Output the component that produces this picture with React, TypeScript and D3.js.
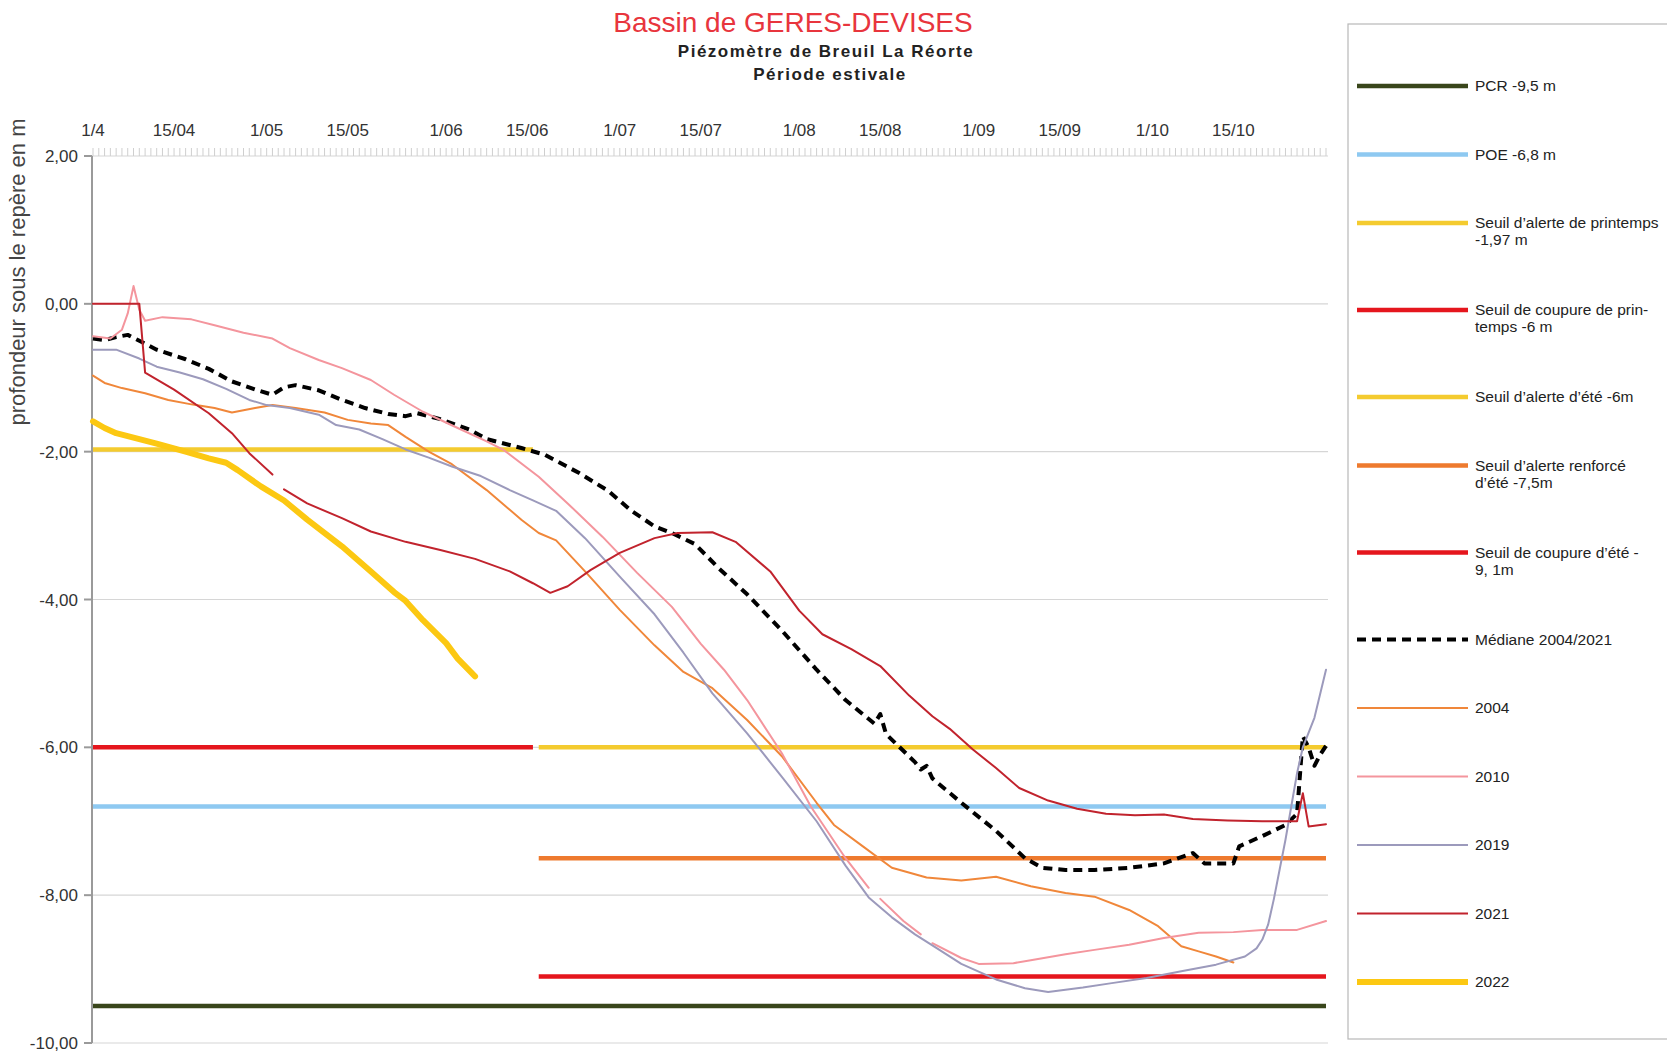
import React from "react";
import * as d3 from "d3";

type P = [number, number | null];

// ---------- axis data ----------
const dayTicks = [0, 14, 30, 44, 61, 75, 91, 105, 122, 136, 153, 167, 183, 197];
const dayLabels = ["1/4", "15/04", "1/05", "15/05", "1/06", "15/06", "1/07", "15/07", "1/08", "15/08", "1/09", "15/09", "1/10", "15/10"];
const yTickValues = [2, 0, -2, -4, -6, -8, -10];
const lastDay = 213;

// ---------- thresholds ----------
const thresholdKeys = ["pcr", "poe", "alertePr", "coupurePr", "alerteEte", "renforce", "coupureEte"];
const thresholdValues = [-9.5, -6.8, -1.97, -6, -6, -7.5, -9.1];
const thresholdStart = [0, 0, 0, 0, 77, 77, 77];
const thresholdEnd = [213, 213, 76, 76, 213, 213, 213];

// ---------- series (day index from 1 April, depth in m) ----------
const median: P[] = [[0,-0.47],[2,-0.49],[4,-0.45],[6,-0.42],[8,-0.5],[11,-0.62],[16,-0.75],[20,-0.88],[24,-1.05],[28,-1.16],[31,-1.23],[33,-1.13],[35,-1.1],[39,-1.17],[43,-1.3],[47,-1.41],[51,-1.49],[54,-1.52],[56,-1.48],[60,-1.56],[65,-1.7],[68,-1.83],[74,-1.95],[78,-2.04],[84,-2.29],[89,-2.53],[93,-2.8],[97,-3.01],[100,-3.1],[104,-3.25],[108,-3.57],[113,-3.93],[119,-4.42],[125,-4.95],[130,-5.36],[135,-5.68],[136,-5.55],[137,-5.82],[142,-6.2],[143,-6.3],[144,-6.25],[145,-6.42],[150,-6.75],[156,-7.13],[161,-7.5],[164,-7.63],[168,-7.66],[173,-7.66],[179,-7.63],[185,-7.57],[190,-7.43],[192,-7.57],[197,-7.57],[198,-7.34],[202,-7.2],[206,-7.05],[208,-6.9],[209,-5.85],[210,-6.0],[211,-6.25],[212,-6.1],[213,-5.98]];

const y2004: P[] = [[0,-0.97],[2,-1.07],[5,-1.14],[9,-1.21],[13,-1.3],[17,-1.36],[21,-1.41],[24,-1.47],[28,-1.41],[31,-1.37],[35,-1.41],[40,-1.47],[44,-1.57],[48,-1.62],[51,-1.64],[54,-1.8],[58,-2.0],[62,-2.17],[68,-2.52],[74,-2.92],[77,-3.1],[80,-3.2],[85,-3.62],[91,-4.14],[97,-4.62],[102,-4.98],[107,-5.2],[113,-5.63],[119,-6.12],[125,-6.75],[128,-7.05],[133,-7.34],[138,-7.63],[144,-7.76],[150,-7.8],[156,-7.75],[162,-7.88],[168,-7.97],[173,-8.02],[179,-8.2],[184,-8.42],[188,-8.69],[191,-8.76],[194,-8.83],[197,-8.91]];

const y2010: P[] = [[0,-0.44],[3,-0.47],[5,-0.35],[6,-0.13],[7,0.24],[8,-0.08],[9,-0.23],[12,-0.18],[17,-0.21],[21,-0.29],[26,-0.39],[31,-0.47],[34,-0.6],[39,-0.76],[43,-0.87],[48,-1.03],[52,-1.23],[57,-1.46],[63,-1.68],[68,-1.86],[71,-1.98],[77,-2.34],[82,-2.7],[88,-3.15],[94,-3.64],[100,-4.1],[105,-4.6],[109,-4.95],[113,-5.36],[119,-6.08],[124,-6.8],[130,-7.5],[134,-7.9],[135,null],[136,-8.05],[140,-8.35],[143,-8.53],[144,null],[145,-8.65],[150,-8.85],[153,-8.93],[159,-8.92],[162,-8.88],[168,-8.8],[173,-8.74],[179,-8.67],[185,-8.58],[191,-8.51],[197,-8.5],[202,-8.47],[208,-8.47],[213,-8.35]];

const y2019: P[] = [[0,-0.62],[4,-0.62],[8,-0.74],[11,-0.85],[15,-0.93],[19,-1.02],[23,-1.15],[27,-1.3],[30,-1.37],[34,-1.41],[39,-1.5],[42,-1.64],[46,-1.7],[50,-1.83],[54,-1.97],[58,-2.08],[62,-2.2],[67,-2.33],[72,-2.52],[76,-2.66],[80,-2.8],[85,-3.17],[91,-3.69],[97,-4.2],[102,-4.72],[107,-5.27],[113,-5.81],[119,-6.4],[125,-7.0],[130,-7.6],[134,-8.03],[138,-8.3],[142,-8.53],[145,-8.68],[150,-8.93],[156,-9.14],[161,-9.26],[165,-9.31],[171,-9.25],[176,-9.19],[182,-9.12],[188,-9.03],[194,-8.94],[199,-8.83],[201,-8.72],[202,-8.6],[203,-8.4],[204,-8.05],[205,-7.65],[206,-7.25],[207,-6.8],[208,-6.35],[209,-6.0],[211,-5.6],[213,-4.95]];

const y2021: P[] = [[0,0],[8,0],[9,-0.93],[14,-1.16],[20,-1.48],[24,-1.75],[27,-2.02],[31,-2.31],[32,null],[33,-2.51],[37,-2.7],[43,-2.9],[48,-3.08],[54,-3.22],[60,-3.33],[66,-3.45],[72,-3.62],[76,-3.78],[79,-3.91],[82,-3.82],[86,-3.6],[91,-3.37],[97,-3.17],[101,-3.1],[107,-3.09],[111,-3.22],[117,-3.62],[122,-4.15],[126,-4.47],[131,-4.67],[136,-4.9],[141,-5.3],[145,-5.58],[148,-5.75],[152,-6.03],[156,-6.28],[160,-6.55],[165,-6.72],[170,-6.83],[175,-6.9],[180,-6.92],[185,-6.91],[190,-6.97],[196,-6.99],[202,-7.0],[208,-7.0],[209,-6.62],[210,-7.07],[213,-7.04]];

const y2022: P[] = [[0,-1.59],[2,-1.68],[4,-1.75],[8,-1.83],[11,-1.89],[16,-2.0],[20,-2.09],[23,-2.15],[25,-2.25],[29,-2.47],[33,-2.66],[37,-2.92],[43,-3.28],[48,-3.62],[52,-3.9],[54,-4.02],[57,-4.28],[61,-4.59],[63,-4.8],[66,-5.04]];

const seriesKeys = ["median", "y2004", "y2010", "y2019", "y2021", "y2022"];
const seriesData: P[][] = [median, y2004, y2010, y2019, y2021, y2022];

// ---------- legend ----------
const legendKeys = ["pcr", "poe", "alertePr", "coupurePr", "alerteEte", "renforce", "coupureEte", "median", "y2004", "y2010", "y2019", "y2021", "y2022"];
const legendLabels: string[][] = [
  ["PCR -9,5 m"],
  ["POE -6,8 m"],
  ["Seuil d’alerte de printemps", "-1,97 m"],
  ["Seuil de coupure de prin-", "temps  -6 m"],
  ["Seuil d’alerte d’été -6m"],
  ["Seuil d’alerte renforcé", "d’été -7,5m"],
  ["Seuil de coupure d’été -", "9, 1m"],
  ["Médiane 2004/2021"],
  ["2004"],
  ["2010"],
  ["2019"],
  ["2021"],
  ["2022"],
];

// ---------- styles ----------
const style: Record<string, { color: string; width: number; dash?: string }> = {
  pcr: { color: "#39461b", width: 4.5 },
  poe: { color: "#8ec9f1", width: 4.5 },
  alertePr: { color: "#f4cb2f", width: 4.5 },
  coupurePr: { color: "#e5161d", width: 4.5 },
  alerteEte: { color: "#f4cb2f", width: 4.5 },
  renforce: { color: "#ee7a2e", width: 4.5 },
  coupureEte: { color: "#e5161d", width: 4.5 },
  median: { color: "#000000", width: 4, dash: "9 6" },
  y2004: { color: "#f0873a", width: 2 },
  y2010: { color: "#f4959d", width: 2 },
  y2019: { color: "#9c9abc", width: 2 },
  y2021: { color: "#c1232d", width: 2 },
  y2022: { color: "#fcc812", width: 6 },
};

const FONT = "'Liberation Sans', Arial, sans-serif";

export default function App() {
  const x = d3.scaleLinear().domain([0, lastDay]).range([93, 1326]);
  const y = d3.scaleLinear().domain([2, -10]).range([156, 1043]);
  const plotLeft = 92;
  const plotRight = 1328;
  const fmt = (v: number) => d3.format(".2f")(v).replace(".", ",").replace("−", "-");

  const line = d3
    .line<P>()
    .defined((d) => d[1] !== null)
    .x((d) => x(d[0]))
    .y((d) => y(d[1] as number));

  // legend layout
  const legendY: number[] = [];
  let cy = 86;
  legendLabels.forEach((lines) => {
    legendY.push(cy);
    cy += 68.5 + 18.5 * (lines.length - 1);
  });

  return (
    <svg
      width={1667}
      height={1052}
      style={{ position: "absolute", left: 0, top: 0, background: "#fff" }}
      fontFamily={FONT}
    >
      <rect x={0} y={0} width={1667} height={1052} fill="#fff" />

      {/* titles */}
      <text x={793} y={32} textAnchor="middle" fontSize={28} fill="#e8353d">
        Bassin de GERES-DEVISES
      </text>
      <text x={826} y={57} textAnchor="middle" fontSize={17} fontWeight="bold" fill="#222" letterSpacing={1.5}>
        Piézomètre de Breuil La Réorte
      </text>
      <text x={830} y={80} textAnchor="middle" fontSize={17} fontWeight="bold" fill="#222" letterSpacing={1.5}>
        Période estivale
      </text>

      {/* y axis title */}
      <text
        transform={`translate(25, ${272}) rotate(-90)`}
        textAnchor="middle"
        fontSize={22}
        fill="#444"
      >
        profondeur sous le repère en m
      </text>

      {/* gridlines */}
      {yTickValues.map((v) => (
        <line key={"g" + v} x1={plotLeft} x2={plotRight} y1={y(v)} y2={y(v)} stroke="#d6d6d6" strokeWidth={1.2} />
      ))}

      {/* top minor ticks (daily) */}
      {d3.range(0, lastDay + 1).map((d) => (
        <line key={"t" + d} x1={x(d)} x2={x(d)} y1={148} y2={156} stroke="#cfcfcf" strokeWidth={1} />
      ))}

      {/* x labels */}
      {dayTicks.map((d, i) => (
        <text key={"xl" + d} x={x(d)} y={136} textAnchor="middle" fontSize={17} fill="#333">
          {dayLabels[i]}
        </text>
      ))}

      {/* y axis */}
      <line x1={plotLeft} x2={plotLeft} y1={y(2)} y2={y(-10)} stroke="#9a9a9a" strokeWidth={2} />
      {yTickValues.map((v) => (
        <g key={"yt" + v}>
          <line x1={plotLeft - 8} x2={plotLeft} y1={y(v)} y2={y(v)} stroke="#9a9a9a" strokeWidth={2} />
          <text x={78} y={y(v) + 6} textAnchor="end" fontSize={17} fill="#333">
            {fmt(v)}
          </text>
        </g>
      ))}

      {/* thresholds */}
      {thresholdKeys.map((k, i) => (
        <line
          key={k}
          x1={x(thresholdStart[i])}
          x2={x(thresholdEnd[i])}
          y1={y(thresholdValues[i])}
          y2={y(thresholdValues[i])}
          stroke={style[k].color}
          strokeWidth={style[k].width}
        />
      ))}

      {/* series */}
      {seriesKeys.map((k, i) => (
        <path
          key={k}
          d={line(seriesData[i]) || ""}
          fill="none"
          stroke={style[k].color}
          strokeWidth={style[k].width}
          strokeDasharray={style[k].dash}
          strokeLinejoin="round"
          strokeLinecap={k === "median" ? "butt" : "round"}
        />
      ))}

      {/* legend */}
      <rect x={1348} y={24} width={400} height={1015} fill="none" stroke="#b8b8b8" strokeWidth={1.2} />
      {legendKeys.map((k, i) => (
        <g key={"lg" + k}>
          <line
            x1={1357}
            x2={1468}
            y1={legendY[i]}
            y2={legendY[i]}
            stroke={style[k].color}
            strokeWidth={style[k].width}
            strokeDasharray={style[k].dash}
          />
          {legendLabels[i].map((t, j) => (
            <text key={j} x={1475} y={legendY[i] + 5 + j * 17} fontSize={15.5} fill="#222">
              {t}
            </text>
          ))}
        </g>
      ))}
    </svg>
  );
}
